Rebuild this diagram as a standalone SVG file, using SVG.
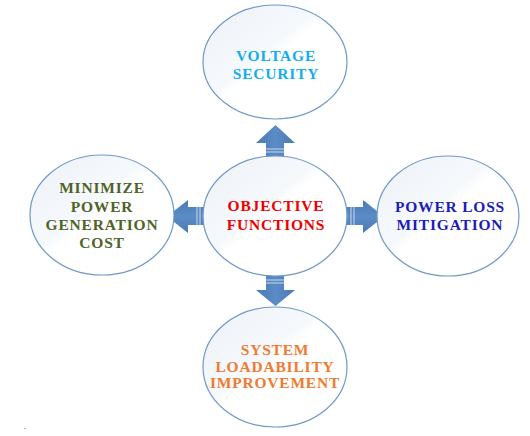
<svg xmlns="http://www.w3.org/2000/svg" width="530" height="436" viewBox="0 0 530 436">
<defs>
<linearGradient id="eg" x1="0" y1="0" x2="1" y2="1">
<stop offset="0" stop-color="#edf2f9"/>
<stop offset="0.42" stop-color="#f6f9fc"/>
<stop offset="0.48" stop-color="#ffffff"/>
<stop offset="1" stop-color="#ffffff"/>
</linearGradient>
<linearGradient id="ag" x1="0" y1="0" x2="1" y2="0">
<stop offset="0" stop-color="#4a7ab4"/>
<stop offset="0.5" stop-color="#5b8cc6"/>
<stop offset="1" stop-color="#4a7ab4"/>
</linearGradient>
<linearGradient id="agv" x1="0" y1="0" x2="0" y2="1">
<stop offset="0" stop-color="#4a7ab4"/>
<stop offset="0.5" stop-color="#5b8cc6"/>
<stop offset="1" stop-color="#4a7ab4"/>
</linearGradient>
</defs>
<style>
.node ellipse{fill:url(#eg);stroke:#6f98c8;stroke-width:1.2}
.t{font-family:"Liberation Serif","DejaVu Serif",serif;font-weight:bold;font-size:15.5px;text-anchor:middle;letter-spacing:0.8px}
.arr{stroke:none}
.stripe{stroke:#c9d9ec;stroke-width:1}
</style>
<g id="connectors">
<g id="arrow-up">
<path class="arr" fill="url(#ag)" d="M266,158 L266,143 L256,143 L275.5,125 L295,143 L284,143 L284,158 Z"/>
<line class="stripe" x1="266" y1="149" x2="284" y2="149"/>
<line class="stripe" x1="266" y1="152" x2="284" y2="152"/>
</g>
<g id="arrow-down">
<path class="arr" fill="url(#ag)" d="M266,275 L266,290 L256,290 L275.5,306 L295,290 L284,290 L284,275 Z"/>
<line class="stripe" x1="266" y1="280" x2="284" y2="280"/>
<line class="stripe" x1="266" y1="283" x2="284" y2="283"/>
</g>
<g id="arrow-left">
<path class="arr" fill="url(#agv)" d="M205,207 L188,207 L188,200 L167,216.5 L188,233 L188,225 L205,225 Z"/>
<line class="stripe" x1="197" y1="207" x2="197" y2="225"/>
<line class="stripe" x1="200" y1="207" x2="200" y2="225"/>
</g>
<g id="arrow-right">
<path class="arr" fill="url(#agv)" d="M345,207 L363,207 L363,200 L384,216.5 L363,233 L363,225 L345,225 Z"/>
<line class="stripe" x1="351" y1="207" x2="351" y2="225"/>
<line class="stripe" x1="354" y1="207" x2="354" y2="225"/>
</g>
</g>
<g id="node-voltage" class="node">
<ellipse cx="275" cy="62" rx="72" ry="57"/>
<text class="t" fill="#14adf0" x="276" y="61">VOLTAGE</text>
<text class="t" fill="#14adf0" x="276" y="79">SECURITY</text>
</g>
<g id="node-objective" class="node">
<ellipse cx="275" cy="216" rx="72" ry="60"/>
<text class="t" fill="#ee0000" x="276" y="211">OBJECTIVE</text>
<text class="t" fill="#ee0000" x="276" y="230">FUNCTIONS</text>
</g>
<g id="node-cost" class="node">
<ellipse cx="102" cy="215" rx="72" ry="60"/>
<text class="t" fill="#4f6228" x="102" y="193">MINIMIZE</text>
<text class="t" fill="#4f6228" x="102" y="212">POWER</text>
<text class="t" fill="#4f6228" x="102" y="230">GENERATION</text>
<text class="t" fill="#4f6228" x="102" y="248">COST</text>
</g>
<g id="node-loss" class="node">
<ellipse cx="448" cy="216" rx="71" ry="60"/>
<text class="t" fill="#1c1cb8" x="450" y="212">POWER LOSS</text>
<text class="t" fill="#1c1cb8" x="450" y="230">MITIGATION</text>
</g>
<g id="node-loadability" class="node">
<ellipse cx="275" cy="367" rx="72" ry="60"/>
<text class="t" fill="#f07a30" x="275" y="355">SYSTEM</text>
<text class="t" fill="#f07a30" x="275" y="372">LOADABILITY</text>
<text class="t" fill="#f07a30" x="275" y="388">IMPROVEMENT</text>
</g>
<text x="24" y="429" font-family="Liberation Serif, serif" font-size="8" fill="#000">.</text>
</svg>
